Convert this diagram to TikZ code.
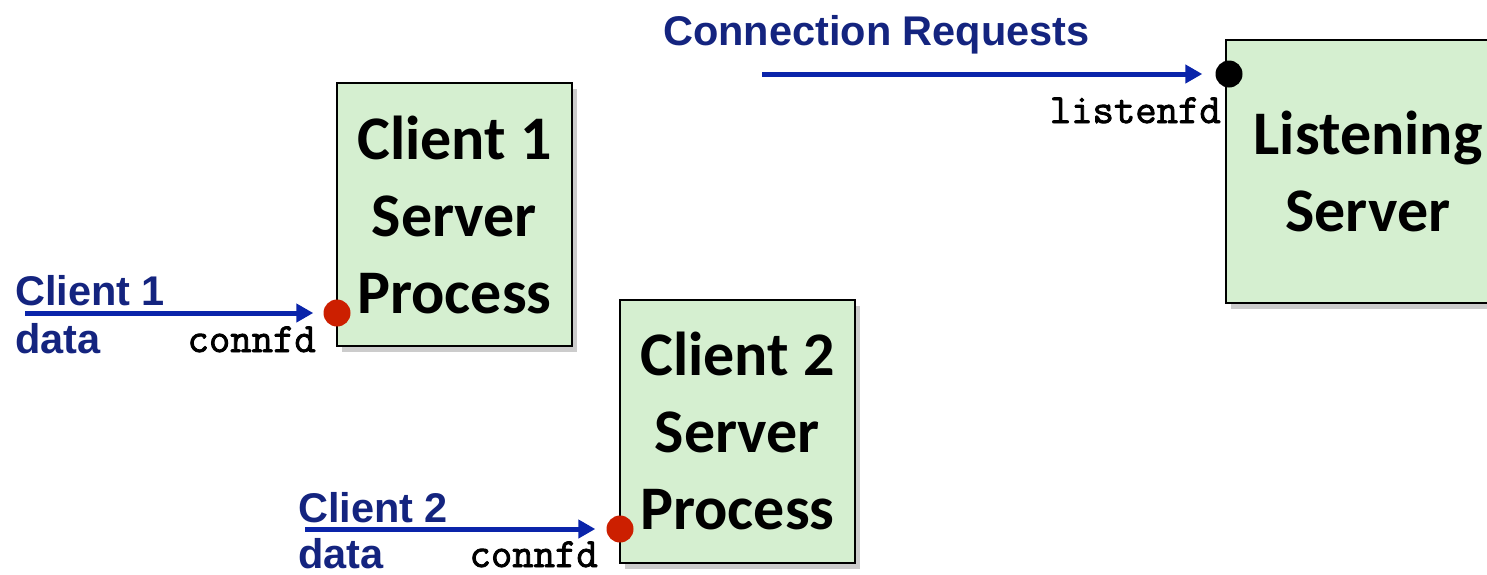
\documentclass[tikz,border=0pt]{standalone}
\usepackage{fontspec}
\newfontfamily\fdfont[FakeBold=2]{Latin Modern Mono}
\newfontfamily\boxfont{Carlito}
\newfontfamily\lblfont{Liberation Sans}
\usepackage{tikz}
\usetikzlibrary{arrows.meta, positioning, shadows}
\definecolor{procgreen}{HTML}{D5EFD0}
\definecolor{navy}{HTML}{14247F}
\definecolor{arrowblue}{HTML}{0A24AA}
\definecolor{dotred}{HTML}{CC1F00}
\tikzstyle{proc}=[draw=black,line width=2pt,fill=procgreen,inner sep=0pt,
  minimum width=235pt,minimum height=263pt,align=center,
  drop shadow={shadow xshift=5pt,shadow yshift=-6pt,opacity=0.4},
  font=\boxfont\bfseries\fontsize{62}{77}\selectfont]
\tikzstyle{fdot}=[circle,inner sep=0pt,minimum size=27pt]
\tikzstyle{arr}=[-{Triangle[length=17pt,width=18pt]},line width=5pt,color=arrowblue]
\tikzstyle{datalbl}=[inner sep=0pt,text=navy,font=\lblfont\bfseries\fontsize{41.5}{48}\selectfont]
\tikzstyle{fdlbl}=[inner sep=0pt,font=\fdfont\bfseries\fontsize{41.5}{44}\selectfont]

\begin{document}
\begin{tikzpicture}[x=1pt,y=-1pt]
  \useasboundingbox (0,0) rectangle (1487,574);
  \clip (0,0) rectangle (1487,574);
  % server processes
  \node[proc,minimum width=284pt] (lsrv) at (1368,171.5) {Listening\\Server};
  \node[proc] (c1box) at (454.5,214.5) {Client 1\\Server\\Process};
  \node[proc] (c2box) at (737.5,431) {Client 2\\Server\\Process};
  % descriptors
  \node[fdot,fill=black] (ldot) at (1229,74) {};
  \node[fdot,fill=dotred] (c1dot) at (337,313) {};
  \node[fdot,fill=dotred] (c2dot) at (620,529) {};
  \node[fdlbl,anchor=base east] (lfd) at (1221,123) {listenfd};
  \node[fdlbl,anchor=base east] (c1fd) at (316,352) {connfd};
  \node[fdlbl,anchor=base east] (c2fd) at (598,567) {connfd};
  % incoming data
  \node[datalbl,anchor=base west] (reqs) at (663,45) {Connection Requests};
  \node[datalbl,anchor=base west] (c1name) at (15,305) {Client 1};
  \node[datalbl,anchor=base west] (c1data) at (15,353) {data};
  \node[datalbl,anchor=base west] (c2name) at (298,522) {Client 2};
  \node[datalbl,anchor=base west] (c2data) at (298,568) {data};
  \coordinate (reqsrc) at (762,74);
  \coordinate (c1src) at (25,313);
  \coordinate (c2src) at (305,529);
  \draw[arr,shorten >=13pt] (reqsrc) -- (ldot.west);
  \draw[arr,shorten >=10pt] (c1src) -- (c1dot.west);
  \draw[arr,shorten >=11pt] (c2src) -- (c2dot.west);
\end{tikzpicture}
\end{document}
